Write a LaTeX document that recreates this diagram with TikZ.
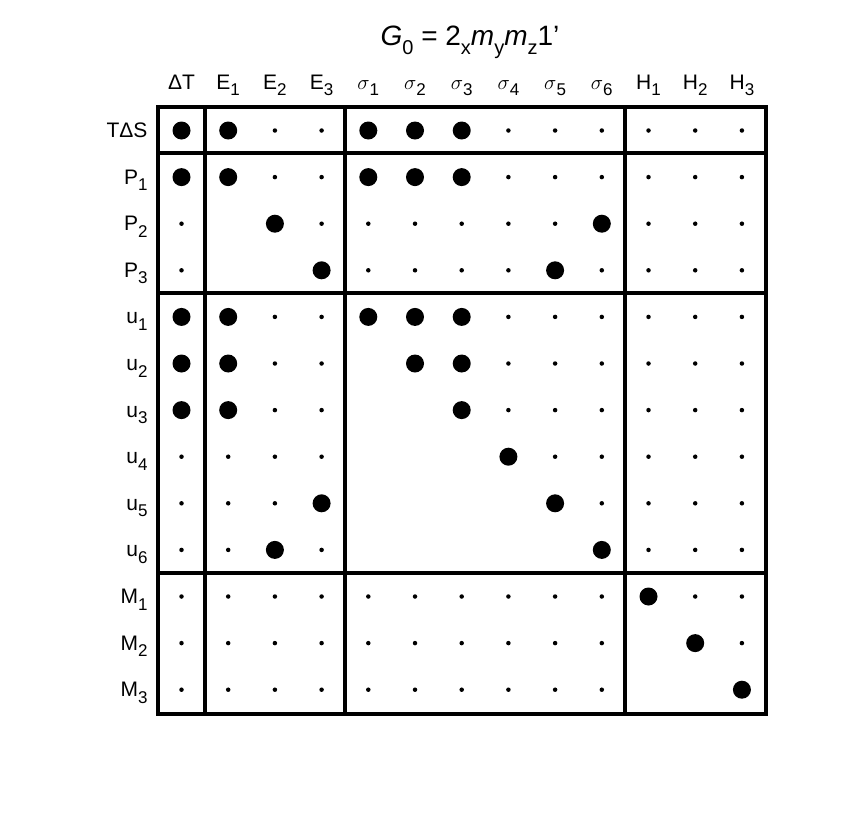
\documentclass[tikz,border=0pt]{standalone}
\usepackage{fontspec}
\setmainfont{Liberation Sans}
\newcommand{\lowsub}[1]{\raisebox{-0.6ex}{\fontsize{17}{17}\selectfont #1}}
\tikzset{
  dot b/.style={circle,fill=black,inner sep=0pt,minimum size=18pt},
  dot s/.style={circle,fill=black,inner sep=0pt,minimum size=4.5pt},
  dot n/.style={inner sep=0pt,minimum size=1pt},
  col label/.style={font=\fontsize{21}{21}\selectfont,anchor=base},
  row label/.style={font=\fontsize{21}{21}\selectfont,anchor=base east},
  frame line/.style={line width=3.2pt},
}
\begin{document}
\begin{tikzpicture}[x=1pt,y=-1pt]
\useasboundingbox (0,0) rectangle (856,812);
%title
\node[font=\fontsize{28}{28}\selectfont] (title) at (470,42) {{\itshape G}\lowsub{\fontsize{20}{20}\selectfont 0} = 2\lowsub{\fontsize{20}{20}\selectfont x}{\itshape m}\lowsub{\fontsize{20}{20}\selectfont y}{\itshape m}\lowsub{\fontsize{20}{20}\selectfont z}1'};
%column labels
\foreach \lab [count=\j] in {ΔT,E\lowsub{1},E\lowsub{2},E\lowsub{3},$\sigma$\lowsub{1},$\sigma$\lowsub{2},$\sigma$\lowsub{3},$\sigma$\lowsub{4},$\sigma$\lowsub{5},$\sigma$\lowsub{6},H\lowsub{1},H\lowsub{2},H\lowsub{3}}
  \node[col label] (c\j) at (181.5+46.7*\j-46.7,89) {\lab};
%rows: b = big dot, s = small dot, n = empty
\foreach \lab/\pattern [count=\i] in {
  TΔS/{b,b,s,s,b,b,b,s,s,s,s,s,s},
  P\lowsub{1}/{b,b,s,s,b,b,b,s,s,s,s,s,s},
  P\lowsub{2}/{s,n,b,s,s,s,s,s,s,b,s,s,s},
  P\lowsub{3}/{s,n,n,b,s,s,s,s,b,s,s,s,s},
  u\lowsub{1}/{b,b,s,s,b,b,b,s,s,s,s,s,s},
  u\lowsub{2}/{b,b,s,s,n,b,b,s,s,s,s,s,s},
  u\lowsub{3}/{b,b,s,s,n,n,b,s,s,s,s,s,s},
  u\lowsub{4}/{s,s,s,s,n,n,n,b,s,s,s,s,s},
  u\lowsub{5}/{s,s,s,b,n,n,n,n,b,s,s,s,s},
  u\lowsub{6}/{s,s,b,s,n,n,n,n,n,b,s,s,s},
  M\lowsub{1}/{s,s,s,s,s,s,s,s,s,s,b,s,s},
  M\lowsub{2}/{s,s,s,s,s,s,s,s,s,s,n,b,s},
  M\lowsub{3}/{s,s,s,s,s,s,s,s,s,s,n,n,b}} {
  \node[row label] (r\i) at (151,130.5+46.6*\i-46.6+7) {\lab};
  \foreach \c [count=\j] in \pattern
    \node[dot \c] (d-\i-\j) at (181.5+46.7*\j-46.7,130.5+46.6*\i-46.6) {};
}
%frame
\draw[frame line] (158,107) rectangle (766,714);
\foreach \x in {205,345,625}
  \draw[frame line] (\x,107) -- (\x,714);
\foreach \y in {153,293,573}
  \draw[frame line] (158,\y) -- (766,\y);
\end{tikzpicture}
\end{document}
